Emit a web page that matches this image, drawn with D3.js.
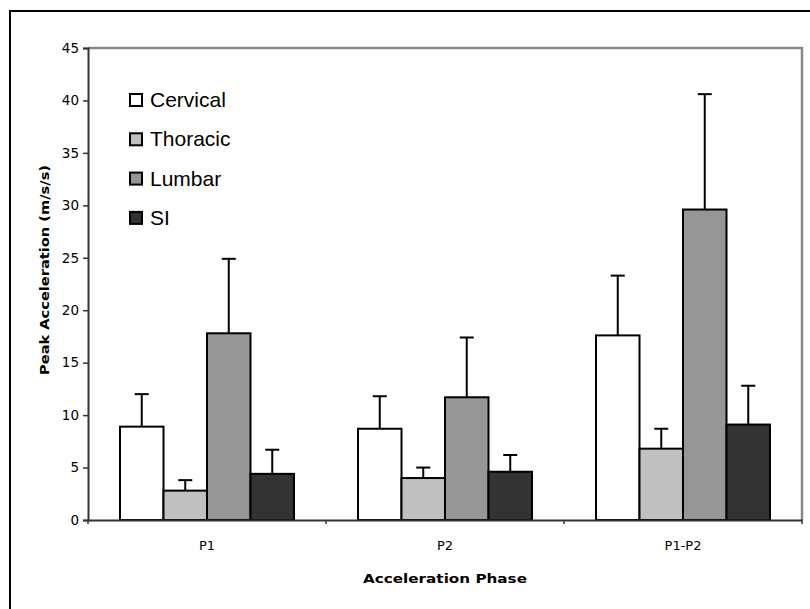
<!DOCTYPE html>
<html>
<head>
<meta charset="utf-8">
<script src="https://cdn.jsdelivr.net/npm/d3@7"></script>
<style>
  html, body { margin: 0; padding: 0; background: #fff; }
  svg { display: block; }
</style>
</head>
<body>
<svg id="chart" width="810" height="609"></svg>
<script>
// Peak acceleration by spinal region for each acceleration phase
const phases = ["P1", "P2", "P1-P2"];
const regions = ["Cervical", "Thoracic", "Lumbar", "SI"];
const regionColors = ["#ffffff", "#c0c0c0", "#969696", "#333333"];

// mean values per region, one entry per phase
const cervical = [8.9, 8.7, 17.6];
const thoracic = [2.8, 4.0, 6.8];
const lumbar   = [17.8, 11.7, 29.6];
const si       = [4.4, 4.6, 9.1];

// upper error (mean + SD) per region, one entry per phase
const cervicalErr = [12.0, 11.8, 23.3];
const thoracicErr = [3.8, 5.0, 8.7];
const lumbarErr   = [24.9, 17.4, 40.6];
const siErr       = [6.7, 6.2, 12.8];

const yTicks = [0, 5, 10, 15, 20, 25, 30, 35, 40, 45];

const seriesValues = [cervical, thoracic, lumbar, si];
const seriesErr = [cervicalErr, thoracicErr, lumbarErr, siErr];

const svg = d3.select("#chart");

// outer chart frame
svg.append("rect")
  .attr("x", 10).attr("y", 11)
  .attr("width", 820).attr("height", 620)
  .attr("fill", "#fff").attr("stroke", "#000").attr("stroke-width", 2);

const plot = { left: 88, right: 802, top: 48, bottom: 520 };

const x0 = d3.scaleBand().domain(phases)
  .range([plot.left, plot.right]).paddingInner(0).paddingOuter(0);
const groupPad = 32;
const x1 = d3.scaleBand().domain(regions)
  .range([groupPad, x0.bandwidth() - groupPad]).padding(0);
const y = d3.scaleLinear().domain([0, 45]).range([plot.bottom, plot.top]);

// plot area top and right borders
svg.append("path")
  .attr("d", `M${plot.left},${plot.top}H${plot.right}V${plot.bottom}`)
  .attr("fill", "none").attr("stroke", "#888").attr("stroke-width", 2.5);

// rows of data
const rows = [];
phases.forEach((p, i) => {
  regions.forEach((r, j) => {
    rows.push({ phase: p, region: r, value: seriesValues[j][i], err: seriesErr[j][i], color: regionColors[j] });
  });
});

// error bars (drawn first so bars cover their base)
const eb = svg.append("g").selectAll("g").data(rows).join("g");
eb.append("line")
  .attr("x1", d => x0(d.phase) + x1(d.region) + x1.bandwidth() / 2)
  .attr("x2", d => x0(d.phase) + x1(d.region) + x1.bandwidth() / 2)
  .attr("y1", d => y(d.value))
  .attr("y2", d => y(d.err))
  .attr("stroke", "#000").attr("stroke-width", 2);
eb.append("line")
  .attr("x1", d => x0(d.phase) + x1(d.region) + x1.bandwidth() / 2 - 7)
  .attr("x2", d => x0(d.phase) + x1(d.region) + x1.bandwidth() / 2 + 7)
  .attr("y1", d => y(d.err))
  .attr("y2", d => y(d.err))
  .attr("stroke", "#000").attr("stroke-width", 2);

// bars
svg.append("g").selectAll("rect").data(rows).join("rect")
  .attr("x", d => x0(d.phase) + x1(d.region))
  .attr("y", d => y(d.value))
  .attr("width", x1.bandwidth())
  .attr("height", d => y(0) - y(d.value))
  .attr("fill", d => d.color)
  .attr("stroke", "#000").attr("stroke-width", 2);

// y axis
const yAxis = svg.append("g")
  .attr("transform", `translate(${plot.left},0)`)
  .call(d3.axisLeft(y).tickValues(yTicks).tickSize(5).tickPadding(4));
yAxis.select(".domain").attr("stroke", "#333").attr("stroke-width", 2);
yAxis.selectAll(".tick line").attr("stroke", "#333").attr("stroke-width", 1.5);
yAxis.selectAll("text")
  .attr("font-family", "DejaVu Sans, Verdana, sans-serif")
  .attr("font-size", 13.5).attr("fill", "#000");

// x axis
const xAxis = svg.append("g")
  .attr("transform", `translate(0,${plot.bottom})`)
  .call(d3.axisBottom(x0).tickSize(0).tickPadding(21));
xAxis.select(".domain").attr("stroke", "#333").attr("stroke-width", 2);
xAxis.selectAll("text")
  .attr("font-family", "DejaVu Sans, Verdana, sans-serif")
  .attr("font-size", 13).attr("fill", "#000");
// category boundary ticks
xAxis.selectAll("line.bound")
  .data(d3.range(phases.length + 1))
  .join("line").attr("class", "bound")
  .attr("x1", i => plot.left + i * x0.step())
  .attr("x2", i => plot.left + i * x0.step())
  .attr("y1", 0).attr("y2", 4)
  .attr("stroke", "#333").attr("stroke-width", 1.5);

// axis titles
svg.append("text")
  .attr("x", 445).attr("y", 583)
  .attr("text-anchor", "middle")
  .attr("font-family", "DejaVu Sans, sans-serif")
  .attr("font-weight", "bold").attr("font-size", 12.5)
  .attr("textLength", 164).attr("lengthAdjust", "spacingAndGlyphs")
  .text("Acceleration Phase");

svg.append("text")
  .attr("transform", "translate(49,270) rotate(-90)")
  .attr("text-anchor", "middle")
  .attr("font-family", "DejaVu Sans, sans-serif")
  .attr("font-weight", "bold").attr("font-size", 11.5)
  .attr("textLength", 210).attr("lengthAdjust", "spacingAndGlyphs")
  .text("Peak Acceleration (m/s/s)");

// legend
const legend = svg.append("g").selectAll("g").data(regions).join("g")
  .attr("transform", (d, i) => `translate(130,${94 + i * 39.3})`);
legend.append("rect")
  .attr("width", 12).attr("height", 12)
  .attr("fill", (d, i) => regionColors[i])
  .attr("stroke", "#000").attr("stroke-width", 2);
legend.append("text")
  .attr("x", 20).attr("y", 13)
  .attr("font-family", "Liberation Sans, Arial, sans-serif")
  .attr("font-size", 21).attr("fill", "#000")
  .text(d => d);
</script>
</body>
</html>
